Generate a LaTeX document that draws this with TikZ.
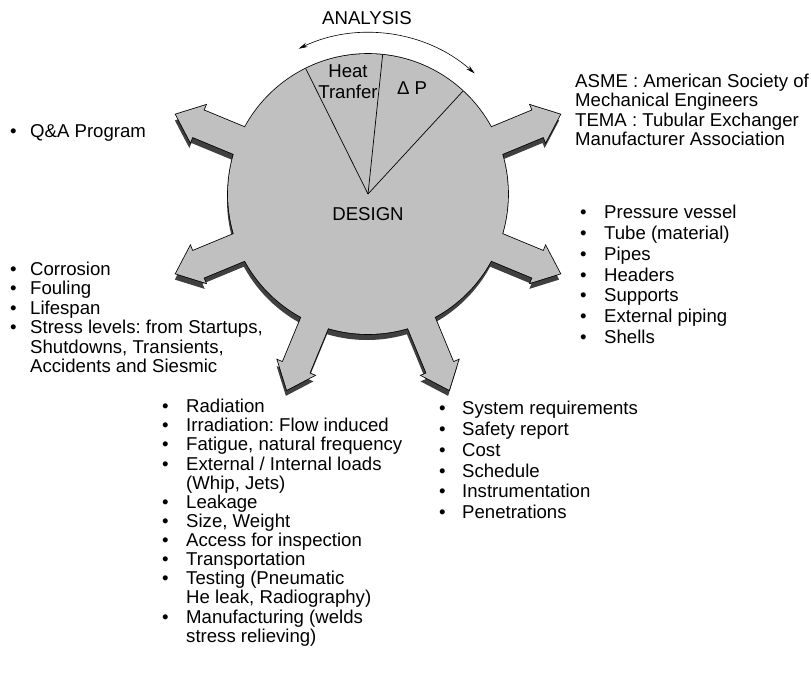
\documentclass[tikz,border=0pt]{standalone}
\usepackage{fontspec}
\setmainfont{Liberation Sans}
\usetikzlibrary{arrows.meta,calc}
\definecolor{fillgray}{HTML}{C0C0C0}
\definecolor{shadowgray}{HTML}{404040}
\frenchspacing
\begin{document}
\begin{tikzpicture}[x=1pt,y=1pt,
  lbl/.style={inner sep=0pt, font=\fontsize{18.6}{21}\selectfont},
  thinline/.style={line width=0.7pt, draw=black}
  ]
\useasboundingbox (0,0) rectangle (811,-672);
\coordinate (c) at (368,-194);
% shadow / extrusion
\fill[shadowgray] (367,-200) circle[radius=140];
\foreach \a/\t in {22.5/208, -22.5/208, 157.5/208, 202.5/208, 247.5/212, 292.5/212} {
  \fill[shadowgray, shift={(367,-200)}, rotate=\a]
    (100,-14.5) -- ({\t-24},-14.5) -- ({\t-24},-20) -- (\t,0) -- ({\t-24},20) -- ({\t-24},14.5) -- (100,14.5) -- cycle;
}
% outline (doubled width, half covered by fill)
\draw[line width=1.6pt] (368,-194) circle[radius=140];
\foreach \a/\t in {22.5/208, -22.5/208, 157.5/208, 202.5/208, 247.5/212, 292.5/212} {
  \draw[line width=1.6pt, line join=miter, shift={(368,-194)}, rotate=\a]
    (100,-14.5) -- ({\t-24},-14.5) -- ({\t-24},-20) -- (\t,0) -- ({\t-24},20) -- ({\t-24},14.5) -- (100,14.5) -- cycle;
}
% fill
\fill[fillgray] (368,-194) circle[radius=140];
\foreach \a/\t in {22.5/208, -22.5/208, 157.5/208, 202.5/208, 247.5/212, 292.5/212} {
  \fill[fillgray, shift={(368,-194)}, rotate=\a]
    (100,-14.5) -- ({\t-24},-14.5) -- ({\t-24},-20) -- (\t,0) -- ({\t-24},20) -- ({\t-24},14.5) -- (100,14.5) -- cycle;
}
% pie lines
\coordinate (p1) at ($(c)+(116.4:140)$);
\coordinate (p2) at ($(c)+(84:140)$);
\coordinate (p3) at ($(c)+(47.3:140)$);
\draw[thinline] (c) -- (p1);
\draw[thinline] (c) -- (p2);
\draw[thinline] (c) -- (p3);
% analysis arc
\coordinate (a1) at ($(c)+(115.5:161)$);
\draw[line width=0.6pt, {Stealth[length=9pt,width=4.5pt]}-{Stealth[length=9pt,width=4.5pt]}] (a1) arc[start angle=115.5, end angle=48.5, radius=161];
\node[lbl] (analysis) at (367,-18) {ANALYSIS};
\node[lbl, align=center] (heat) at (348,-82) {Heat\\Tranfer};
\node[lbl] (dp) at (412,-88) {Δ P};
\node[lbl] (design) at (368,-214) {DESIGN};
% texts
\node[lbl, anchor=base west, font=\fontsize{18.6}{19}\selectfont] (asme) at (575,-87.7)
  {\begin{tabular}[t]{@{}l@{}}ASME : American Society of\\Mechanical Engineers\\TEMA : Tubular Exchanger\\Manufacturer Association\end{tabular}};
\node[lbl, anchor=base west] (qa) at (10,-137.5)
  {\begin{tabular}[t]{@{}p{20pt}@{}l@{}}• & Q\&A Program\end{tabular}};
\node[lbl, anchor=base west, font=\fontsize{18.6}{19.5}\selectfont] (leftlist) at (10,-275)
  {\begin{tabular}[t]{@{}p{20pt}@{}l@{}}
  • & Corrosion\\ • & Fouling\\ • & Lifespan\\ • & Stress levels: from Startups,\\
    & Shutdowns, Transients,\\ & Accidents and Siesmic\end{tabular}};
\node[lbl, anchor=base west, font=\fontsize{18.6}{20.8}\selectfont] (rightlist) at (580,-218.7)
  {\begin{tabular}[t]{@{}p{24pt}@{}l@{}}
  • & Pressure vessel\\ • & Tube (material)\\ • & Pipes\\ • & Headers\\ • & Supports\\
  • & External piping\\ • & Shells\end{tabular}};
\node[lbl, anchor=base west, font=\fontsize{18.6}{18.8}\selectfont] (botleft) at (162,-412.7)
  {\begin{tabular}[t]{@{}p{24pt}@{}l@{}}
  • & Radiation\\ • & Irradiation: Flow induced\\ • & Fatigue, natural frequency\\
  • & External / Internal loads\\ & (Whip, Jets)\\ • & Leakage\\ • & Size, Weight\\
  • & Access for inspection\\ • & Transportation\\ • & Testing (Pneumatic\\
    & He leak, Radiography)\\ • & Manufacturing (welds\\ & stress relieving)\end{tabular}};
\node[lbl, anchor=base west, font=\fontsize{18.6}{20.8}\selectfont] (botright) at (439,-414.7)
  {\begin{tabular}[t]{@{}p{23pt}@{}l@{}}
  • & System requirements\\ • & Safety report\\ • & Cost\\ • & Schedule\\
  • & Instrumentation\\ • & Penetrations\end{tabular}};
\end{tikzpicture}
\end{document}
